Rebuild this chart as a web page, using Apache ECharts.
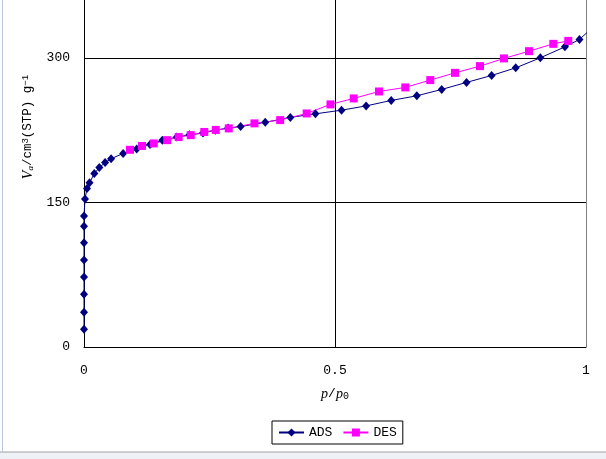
<!DOCTYPE html>
<html><head><meta charset="utf-8">
<script src="https://cdn.jsdelivr.net/npm/echarts@6/dist/echarts.min.js"></script>
<style>html,body{margin:0;padding:0;background:#fff}#c{width:606px;height:459px}</style>
</head><body><div id="c"></div>
<script>
// p/p0 and adsorbed volume (cm3(STP)/g)
const adsX = [0,0,0,0,0,0,0,0,0.002,0.006,0.011,0.0205,0.0305,0.042,0.054,0.078,0.105,0.1315,0.156,0.185,0.21,0.237,0.262,0.287,0.312,0.361,0.411,0.461,0.513,0.562,0.612,0.663,0.7125,0.762,0.812,0.86,0.909,0.958,0.987,1.01];
const adsY = [18.4,36.0,54.6,72.6,90.2,108.2,125.2,135.8,153.5,164.4,170.4,179.9,186.1,191.3,195.3,200.8,205.4,210.2,214.4,217.8,220.1,221.9,225.0,227.1,228.7,233.1,238.2,241.9,245.7,250.1,255.8,260.6,267.2,274.5,281.7,289.6,300.0,311.4,319.1,330];
const desX = [0.0916,0.1155,0.139,0.1657,0.1886,0.2127,0.2396,0.2625,0.2884,0.3396,0.3908,0.4436,0.491,0.5373,0.5876,0.64,0.6898,0.739,0.7888,0.8367,0.8865,0.9349,0.9647];
const desY = [204.6,208.6,211.2,214.6,217.8,219.8,223.1,225.2,226.8,232.0,235.4,242.3,251.7,257.9,265.1,269.3,276.9,284.4,291.4,299.4,306.9,314.5,317.6];
const seriesNames = ['ADS','DES'];
const xTicks = {min:0, max:1, interval:0.5};
const yTicks = {min:0, max:360, interval:150};

const mono = 'Liberation Mono';
const chart = echarts.init(document.getElementById('c'), null, {renderer:'canvas'});
const zip = (a,b)=>a.map((v,i)=>[v,b[i]]);
chart.setOption({
  backgroundColor:'#fff',
  animation:false,
  grid:{left:84, right:20, top:0, bottom:112, containLabel:false},
  xAxis:{
    type:'value', min:xTicks.min, max:xTicks.max, interval:xTicks.interval,
    axisLine:{show:true, lineStyle:{color:'#000', width:1}},
    axisTick:{show:false},
    splitLine:{show:true, lineStyle:{color:['#000','#000','#808080'], width:1}},
    axisLabel:{color:'#000', fontFamily:mono, fontSize:13, margin:17,
      formatter:v=> v===0?'0':(v===1?'1':String(v))},
    name:'{i|p}/{i|p}{s|0}', nameLocation:'middle', nameGap:40,
    nameTextStyle:{color:'#000', fontFamily:mono, fontSize:13,
      rich:{i:{fontFamily:'Liberation Serif', fontStyle:'italic', fontSize:14, color:'#000'},
            s:{fontFamily:mono, fontSize:10, verticalAlign:'bottom', color:'#000'}}}
  },
  yAxis:{
    type:'value', min:yTicks.min, max:yTicks.max, interval:yTicks.interval,
    axisLine:{show:true, lineStyle:{color:'#000', width:1}},
    axisTick:{show:false},
    splitLine:{show:true, showMaxLine:false, lineStyle:{color:'#000', width:1}},
    axisLabel:{color:'#000', fontFamily:mono, fontSize:13, margin:14, showMaxLabel:false,
      formatter:v=> (v % yTicks.interval === 0) ? String(v) : ''}
  },
  legend:{
    data:seriesNames, left:272, top:421,
    borderColor:'#000', borderWidth:1, borderRadius:0, padding:[5,6],
    itemWidth:25, itemHeight:10, itemGap:10,
    textStyle:{color:'#000', fontFamily:mono, fontSize:13}
  },
  series:[
    {name:seriesNames[0], type:'line', data:zip(adsX,adsY), clip:true,
     symbol:'diamond', symbolSize:[8,9],
     lineStyle:{color:'#000080', width:1}, itemStyle:{color:'#000080'}},
    {name:seriesNames[1], type:'line', data:zip(desX,desY), clip:true,
     symbol:'rect', symbolSize:8,
     lineStyle:{color:'#ff00ff', width:1}, itemStyle:{color:'#ff00ff'}}
  ],
  graphic:[
    {type:'text', x:28, y:127, rotation:Math.PI/2, silent:true,
     style:{text:'{i|V}{sb|a}/cm{sp|3}(STP) g{sp|\u22121}', align:'center', verticalAlign:'middle',
       fill:'#000', font:'12.5px "Liberation Mono"',
       rich:{i:{fontFamily:'Liberation Serif', fontStyle:'italic', fontSize:14, fill:'#000'},
             sb:{fontFamily:'Liberation Serif', fontStyle:'italic', fontSize:9, verticalAlign:'bottom', fill:'#000'},
             sp:{fontFamily:'Liberation Mono', fontSize:9, verticalAlign:'top', fill:'#000'}}}},
    {type:'rect', shape:{x:0,y:452,width:606,height:7}, style:{fill:'#eef2f6'}, silent:true},
    {type:'line', shape:{x1:0,y1:452,x2:606,y2:452}, style:{stroke:'#a0a0a0', lineWidth:1}, silent:true},
    {type:'line', shape:{x1:2.5,y1:0,x2:2.5,y2:452}, style:{stroke:'#b8c8dc', lineWidth:1}, silent:true}
  ]
});
</script></body></html>
